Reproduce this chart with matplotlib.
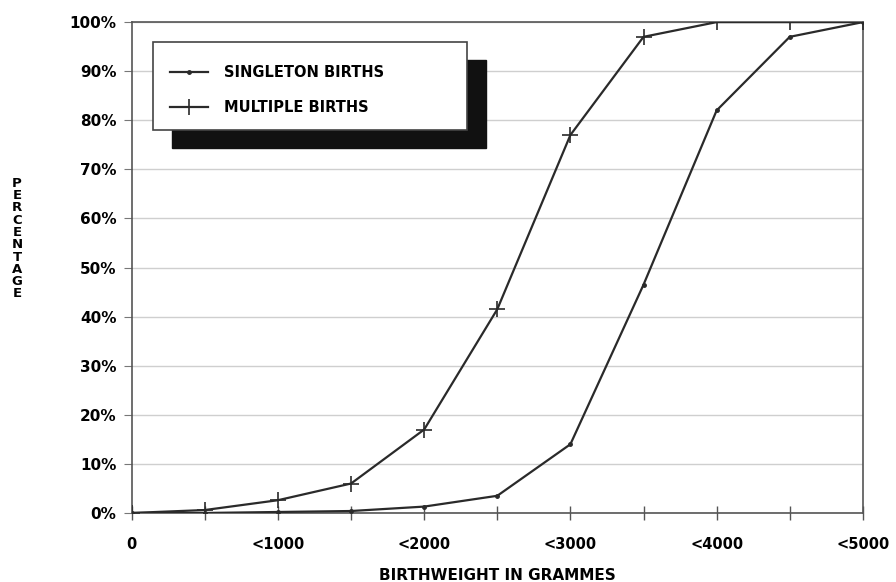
import numpy as np
import matplotlib.pyplot as plt
from matplotlib.patches import Rectangle

# birthweight (grammes) and cumulative percentages
weights = [0, 500, 1000, 1500, 2000, 2500, 3000, 3500, 4000, 4500, 5000]
singleton = [0, 0, 0.2, 0.4, 1.3, 3.5, 14, 46.5, 82, 97, 100]
multiple = [0, 0.6, 2.6, 6, 17, 41.5, 77, 97, 100, 100, 100]

x_ticks = [0, 1000, 2000, 3000, 4000, 5000]
x_labels = ["0", "<1000", "<2000", "<3000", "<4000", "<5000"]
y_ticks = list(range(0, 101, 10))

plt.rcParams['font.family'] = ['DejaVu Sans']
plt.rcParams['font.weight'] = 'bold'
plt.rcParams['axes.labelweight'] = 'bold'

fig = plt.figure(figsize=(8.96, 5.82), dpi=100)
ax = fig.add_axes([0.147, 0.1186, 0.816, 0.8434])

ink = '#2a2a2a'
ax.plot(weights, singleton, color=ink, lw=1.6, marker='.', ms=5,
        label='SINGLETON BIRTHS', zorder=3)
ax.plot(weights, multiple, color=ink, lw=1.6, marker='+', ms=12, mew=1.2,
        label='MULTIPLE BIRTHS', zorder=3)

ax.set_xlim(0, 5000)
ax.set_ylim(0, 100)
ax.set_xticks(x_ticks)
ax.set_xticks(np.arange(500, 5000, 1000), minor=True)
ax.set_xticklabels(x_labels)
ax.set_yticks(y_ticks)
ax.set_yticklabels([f"{v}%" for v in y_ticks])
ax.tick_params(axis='x', which='both', direction='inout', length=10, width=1,
               color='#555555', labelsize=10.5, pad=12)
ax.tick_params(axis='y', direction='out', length=6, color='#777777',
               labelsize=11, pad=5)
ax.grid(axis='y', color='#cfcfcf', lw=1)
for s in ax.spines.values():
    s.set_color('#555555')
    s.set_linewidth(1.2)

ax.set_xlabel('BIRTHWEIGHT IN GRAMMES', fontsize=11, labelpad=12)
fig.text(0.019, 0.59, "\n".join("PERCENTAGE"), ha='center', va='center',
         fontsize=9.5, linespacing=0.93)

# legend box with solid drop shadow
x0, y0, w, h = 0.029, 0.780, 0.429, 0.179
ax.add_patch(Rectangle((x0 + 0.026, y0 - 0.037), w, h, transform=ax.transAxes,
                       facecolor='#111111', edgecolor='#111111', zorder=5))
ax.add_patch(Rectangle((x0, y0), w, h, transform=ax.transAxes,
                       facecolor='white', edgecolor='#444444', lw=1.2, zorder=6))
leg = ax.legend(loc='upper left', bbox_to_anchor=(0.052, 0.913), frameon=False,
                fontsize=10.5, handlelength=2.6, handletextpad=1.1,
                labelspacing=1.4, borderpad=0, borderaxespad=0)
leg.set_zorder(7)

fig.savefig('out.png', dpi=100)
